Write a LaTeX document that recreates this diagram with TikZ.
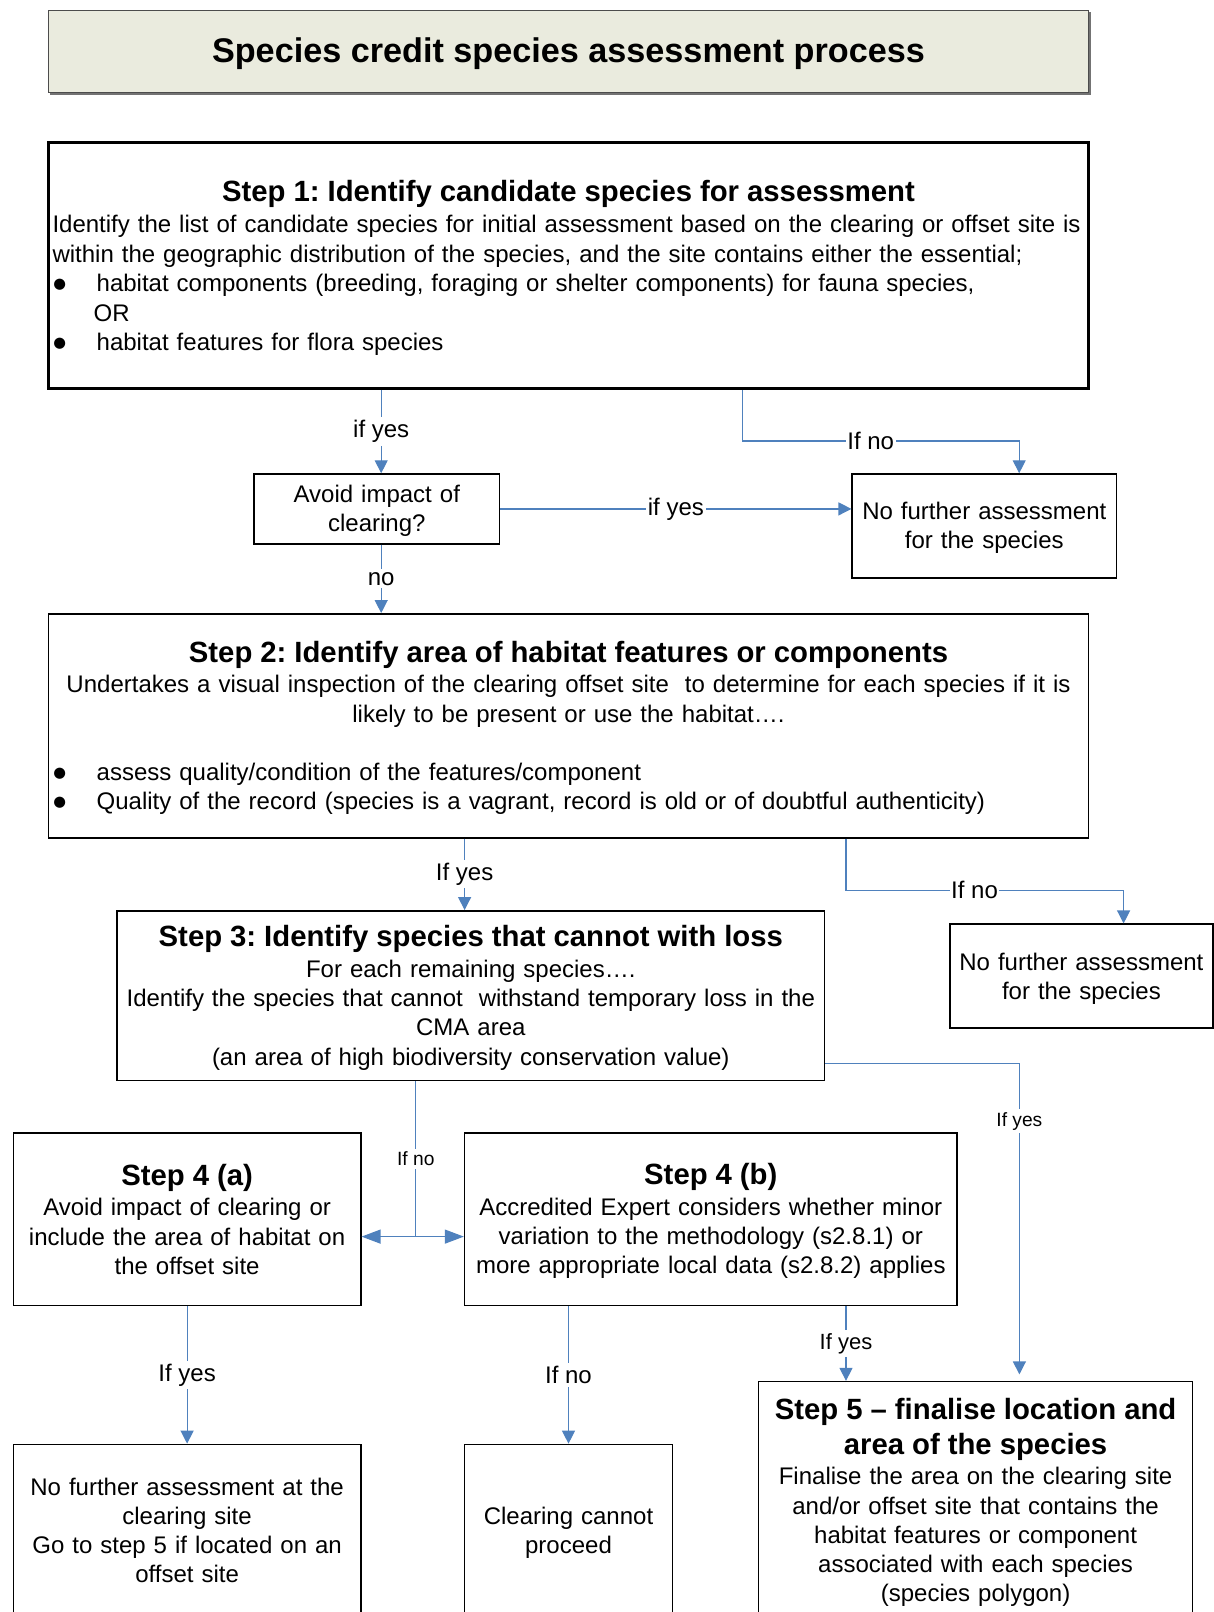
\documentclass[tikz,border=0pt]{standalone}
\usepackage{fontspec}
\setmainfont{Liberation Sans}
\newfontfamily\symf{DejaVu Sans}
\usetikzlibrary{arrows.meta,shadows}
\definecolor{linkblue}{RGB}{79,129,189}
\definecolor{headfill}{RGB}{234,235,222}
% font sizes used in the chart
\newcommand\bodyf{\fontsize{12}{14.6}\selectfont}
\newcommand\bodyfw{\fontsize{12}{14.75}\selectfont}
\newcommand\headf{\fontsize{14.65}{17.5}\selectfont\bfseries}
\newcommand\titlef{\fontsize{17.1}{20}\selectfont\bfseries}
\newcommand\smallf{\fontsize{9.6}{11.5}\selectfont}
\newcommand\midf{\fontsize{11}{13}\selectfont}
% round bullet with its hanging indent
\newcommand\blt{\makebox[22.1pt][l]{\hspace{0.5pt}\raisebox{1.6pt}{\symf\fontsize{7.3}{8}\selectfont ●}}}
\begin{document}
\frenchspacing
\begin{tikzpicture}[x=1pt,y=-1pt,
  box/.style={draw=black, line width=0.75pt, inner sep=0pt},
  bx/.style 2 args={box, minimum width=#1pt, minimum height=#2pt},
  txt/.style={inner sep=0pt, align=center, font=\bodyf, text width=#1pt},
  lbl/.style={fill=white, inner xsep=0.8pt, inner ysep=1.5pt, font=\bodyf},
  slbl/.style={lbl, font=\smallf},
  mlbl/.style={lbl, font=\midf},
  ln/.style={draw=linkblue, line width=0.6pt},
  arr/.style={ln, -{Triangle[length=6.5pt,width=6.5pt]}},
  arrL/.style={ln, -{Triangle[length=9.5pt,width=7pt]}},
]
\useasboundingbox (0,0) rectangle (607,806);
\clip (0,0) rectangle (607,806);

% heading
\node[draw=black!70, line width=0.6pt, fill=headfill, inner sep=0pt, text depth=1.6pt,
      drop shadow={shadow xshift=1pt,shadow yshift=-1pt,fill=black!55,opacity=1},
      minimum width=520.1pt, minimum height=41.2pt, font=\titlef]
  (title) at (284.25,25.7) {Species credit species assessment process};

% boxes
\node[bx={520.1}{122.9}, line width=1.5pt] (s1) at (284.25,132.85) {};
\node[bx={122.8}{34.9}] (avoid) at (188.4,254.45) {};
\node[bx={132.1}{51.9}] (nfa1) at (492.15,262.95) {};
\node[bx={520.1}{112}] (s2) at (284.25,362.9) {};
\node[bx={353.6}{84.8}] (s3) at (235.4,497.8) {};
\node[bx={131.6}{51.9}] (nfa2) at (540.7,488.05) {};
\node[bx={173.7}{86.4}] (s4a) at (93.55,609.6) {};
\node[bx={246.2}{86.4}] (s4b) at (355.4,609.6) {};
\node[bx={173.7}{86}] (nfa3) at (93.55,765.2) {};
\node[bx={103.9}{86}] (clear) at (284.25,765.2) {};
\node[bx={217}{117.7}] (s5) at (487.8,749.65) {};

% box texts
\node[txt=516, align=left, font=\bodyfw] (s1t) at ([yshift=-1.3pt]s1.center) {%
{\centering\headf Step 1: Identify candidate species for assessment\par}
\vspace{0.8pt}
Identify the list of candidate species for initial assessment based on the clearing or offset site is\\
within the geographic distribution of the species, and the site contains either the essential;\\
\blt habitat components (breeding, foraging or shelter components) for fauna species,\\
\hspace*{20.6pt}OR\\
\blt habitat features for flora species};

\node[txt=118] (avoidt) at ([yshift=-1pt]avoid.center) {Avoid impact of\\clearing?};
\node[txt=128] (nfa1t) at ([yshift=-1pt]nfa1.center) {No further assessment\\for the species};

\node[txt=516, align=left] (s2t) at ([yshift=-1pt]s2.center) {%
{\centering\headf Step 2: Identify area of habitat features or components\par}
\vspace{0.8pt}
{\centering Undertakes a visual inspection of the clearing offset site\ \ to determine for each species if it is\\
likely to be present or use the habitat….\par}
\vspace{14.6pt}
\blt assess quality/condition of the features/component\\
\blt Quality of the record (species is a vagrant, record is old or of doubtful authenticity)};

\node[txt=350] (s3t) at ([yshift=-1.1pt]s3.center) {%
{\headf Step 3: Identify species that cannot with loss}\\[0.8pt]
For each remaining species….\\
Identify the species that cannot\ \ withstand temporary loss in the\\
CMA area\\
(an area of high biodiversity conservation value)};
\node[txt=128] (nfa2t) at ([yshift=-1.2pt]nfa2.center) {No further assessment\\for the species};

\node[txt=170] (s4at) at (s4a.center) {%
{\headf Step 4 (a)}\\[0.8pt]
Avoid impact of clearing or\\
include the area of habitat on\\
the offset site};
\node[txt=242] (s4bt) at ([yshift=-0.9pt]s4b.center) {%
{\headf Step 4 (b)}\\[0.8pt]
Accredited Expert considers whether minor\\
variation to the methodology (s2.8.1) or\\
more appropriate local data (s2.8.2) applies};

\node[txt=170] (nfa3t) at (nfa3.center) {No further assessment at the\\
clearing site\\
Go to step 5 if located on an\\
offset site};
\node[txt=100] (cleart) at ([yshift=-1.2pt]clear.center) {Clearing cannot\\proceed};
\node[txt=213] (s5t) at ([yshift=-1.5pt]s5.center) {%
{\headf Step 5 – finalise location and\\area of the species\par}
\vspace{0.8pt}
Finalise the area on the clearing site\\
and/or offset site that contains the\\
habitat features or component\\
associated with each species\\
(species polygon)};

% connector columns and bends
\coordinate (k1) at (190.6,0);
\coordinate (k2) at (371.1,220.5);
\coordinate (k3) at (509.6,220.5);
\coordinate (k4) at (232.3,0);
\coordinate (k5) at (423,445.1);
\coordinate (k6) at (561.8,445.1);
\coordinate (k7) at (207.9,618.3);
\coordinate (k8) at (509.7,531.6);
\coordinate (k9) at (509.7,687.2);
\coordinate (k10) at (423,0);

\draw[arr] (s1.south -| k1) -- node[lbl]{if yes} (avoid.north -| k1);
\draw[arr] (s1.south -| k2) -- (k2) -- node[lbl,pos=0.464]{If no} (k3) -- (nfa1.north -| k3);
\draw[arr] (avoid.east) -- node[lbl]{if yes} (avoid.east -| nfa1.west);
\draw[arr] (avoid.south -| k1) -- node[lbl]{no} (s2.north -| k1);

\draw[arr] (s2.south -| k4) -- node[lbl]{If yes} (s3.north -| k4);
\draw[arr] (s2.south -| k5) -- (k5) -- node[lbl,pos=0.463]{If no} (k6) -- (nfa2.north -| k6);

\draw[ln] (s3.south -| k7) -- node[slbl]{If no} (k7);
\draw[arrL] (k7) -- (s4a.east |- k7);
\draw[arrL] (k7) -- (s4b.west |- k7);
\draw[arr] (s3.east |- k8) -- (k8) -- node[slbl,pos=0.187]{If yes} (k9);

\draw[arr] (s4a.south) -- node[lbl]{If yes} (nfa3.north);
\draw[arr] (s4b.south -| clear.north) -- node[lbl]{If no} (clear.north);
\draw[arr] (s4b.south -| k10) -- node[mlbl]{If yes} (s5.north -| k10);
\end{tikzpicture}
\end{document}
